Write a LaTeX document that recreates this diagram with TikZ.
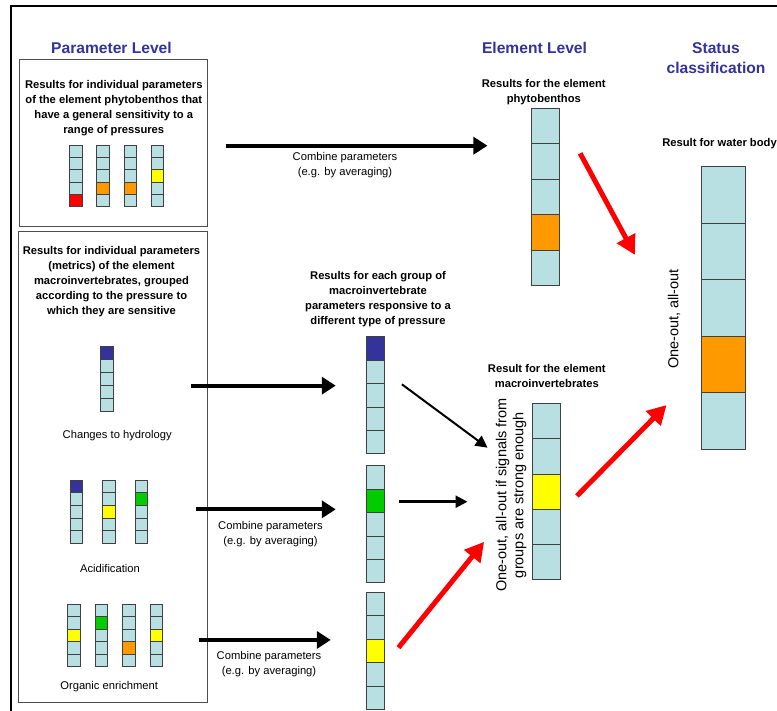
\documentclass[tikz,border=0pt]{standalone}
\usepackage{fontspec}
\setmainfont{Liberation Sans}
\usepackage{tikz}
\usetikzlibrary{arrows.meta}
\usepackage{xcolor}
\definecolor{cellblue}{HTML}{B8DFE1}
\definecolor{headblue}{HTML}{333399}
\definecolor{darkblue}{HTML}{333399}
\definecolor{cellgreen}{HTML}{00CC00}
\definecolor{cellyellow}{HTML}{FFFF00}
\definecolor{cellorange}{HTML}{FF9900}
\definecolor{cellred}{HTML}{FF0000}
\definecolor{arrowred}{HTML}{FF0000}

% one column of five result cells: name, x, top, width, cell height, coloured cell, colour
\newcommand{\stripcol}[7]{%
  \foreach \k in {1,...,5}{%
    \ifnum\k=#6\relax \def\cellcol{#7}\else \def\cellcol{cellblue}\fi
    \draw[cellline, fill=\cellcol] ({#2-#4/2}, {#3+(\k-1)*#5}) rectangle ++(#4, #5);
  }%
  \node[inner sep=0pt, minimum width=#4pt, minimum height={5*#5pt}] (#1) at (#2, {#3+2.5*#5}) {};
}

\begin{document}
\begin{tikzpicture}[
  x=1pt, y=-1pt,
  panel/.style={draw=black!70, line width=0.8pt, inner sep=0pt},
  cellline/.style={draw=black!75, line width=0.7pt},
  heading/.style={font=\fontsize{15.6}{20.6}\selectfont\bfseries, text=headblue, align=center},
  blbl/.style={font=\fontsize{11.2}{15}\selectfont\bfseries, align=center},
  lbl/.style={font=\fontsize{11.2}{15}\selectfont, align=center},
  rotlbl/.style={font=\fontsize{14.5}{17}\selectfont, align=center, rotate=90},
  bigarrow/.style={-{Triangle[length=14pt,width=17pt]}, line width=4pt},
  thinarrow/.style={-{Triangle[length=12pt,width=12pt]}, line width=2pt},
  redarrow/.style={-{Triangle[length=19pt,width=20pt]}, line width=5pt, draw=arrowred}
]
  \useasboundingbox[fill=white] (0,0) rectangle (777,711);

  % Frame
  \draw[line width=2.5pt] (11,800) -- (11,6) -- (800,6);

  % Headings
  \node[heading] (parhead) at (111.5, 47.7) {Parameter Level};
  \node[heading] (elemhead) at (534.5, 47.7) {Element Level};
  \node[heading] (stathead) at (716, 58) {Status\\classification};

  % Parameter level: phytobenthos
  \node[panel, minimum width=188pt, minimum height=167pt] (parbox) at (113, 142.5) {};
  \node[blbl] (parres) at (113.8, 108.5)
    {Results for individual parameters\\of the element phytobenthos that\\have a general sensitivity to a\\range of pressures};
  \stripcol{pb1}{75.7}{145}{12.3}{12.3}{5}{cellred}
  \stripcol{pb2}{102.7}{145}{12.3}{12.3}{4}{cellorange}
  \stripcol{pb3}{130}{145}{12.3}{12.3}{4}{cellorange}
  \stripcol{pb4}{157.3}{145}{12.3}{12.3}{3}{cellyellow}

  % Parameter level: macroinvertebrates
  \node[panel, minimum width=189pt, minimum height=471pt] (macbox) at (112.5, 466.5) {};
  \node[blbl] (macres) at (111.5, 281.7)
    {Results for individual parameters\\(metrics) of the element\\macroinvertebrates, grouped\\according to the pressure to\\which they are sensitive};
  \stripcol{hyd1}{106.8}{346.7}{12.3}{12.9}{1}{darkblue}
  \node[lbl] (hydlbl) at (117.2, 435.7) {Changes to hydrology};
  \stripcol{acid1}{76.3}{480}{12.3}{12.7}{1}{darkblue}
  \stripcol{acid2}{108.7}{480}{12.3}{12.7}{3}{cellyellow}
  \stripcol{acid3}{141.3}{480}{12.3}{12.7}{2}{cellgreen}
  \node[lbl] (acidlbl) at (110, 568.3) {Acidification};
  \stripcol{org1}{73.8}{604.3}{12.3}{12.5}{3}{cellyellow}
  \stripcol{org2}{101.2}{604.3}{12.3}{12.5}{2}{cellgreen}
  \stripcol{org3}{128.8}{604.3}{12.3}{12.5}{4}{cellorange}
  \stripcol{org4}{156.2}{604.3}{12.3}{12.5}{3}{cellyellow}
  \node[lbl] (orglbl) at (109.2, 686.7) {Organic enrichment};

  % Groups of macroinvertebrate parameters
  \node[blbl] (grpres) at (378, 299.5)
    {Results for each group of\\macroinvertebrate\\parameters responsive to a\\different type of pressure};
  \stripcol{grp1}{375.3}{336.7}{18.7}{23.4}{1}{darkblue}
  \stripcol{grp2}{375.3}{465.7}{18.7}{23.4}{2}{cellgreen}
  \stripcol{grp3}{375.3}{592.3}{18.7}{23.4}{3}{cellyellow}

  % Element level
  \node[blbl] (phytores) at (543.8, 92.2) {Results for the element\\phytobenthos};
  \stripcol{phyto}{545.5}{108.3}{27.7}{35.5}{4}{cellorange}
  \node[blbl] (macelres) at (546.8, 375.8) {Result for the element\\macroinvertebrates};
  \stripcol{macel}{546.7}{403.3}{28}{35.3}{3}{cellyellow}
  \node[rotlbl] (oneoutif) at (511, 495) {One-out, all-out if signals from\\groups are strong enough};

  % Status classification
  \node[blbl] (waterres) at (719.5, 143.3) {Result for water body};
  \stripcol{water}{723.7}{166.7}{44}{56.5}{4}{cellorange}
  \node[rotlbl] (oneout) at (674, 319) {One-out, all-out};

  % Combining arrows
  \draw[bigarrow, shorten <=18.3pt, shorten >=44pt]
    ([yshift=-3.2pt]parbox.east) -- ([yshift=-3.2pt]parbox.east -| phyto.west);
  \node[lbl] (comb1) at (345, 165.5) {Combine parameters\\(e.g. by averaging)};
  \draw[bigarrow, shorten <=77.7pt, shorten >=30pt]
    ([yshift=-6.7pt]hyd1.east) -- ([yshift=-6.7pt]hyd1.east -| grp1.west);
  \draw[bigarrow, shorten <=48.3pt, shorten >=30pt]
    ([yshift=2.4pt]acid3.east) -- ([yshift=2.4pt]acid3.east -| grp2.west);
  \node[lbl] (comb2) at (270.5, 534.3) {Combine parameters\\(e.g. by averaging)};
  \draw[bigarrow, shorten <=36pt, shorten >=35pt]
    ([yshift=-4.4pt]org4.east) -- ([yshift=-4.4pt]org4.east -| grp3.west);
  \node[lbl] (comb3) at (269, 664.3) {Combine parameters\\(e.g. by averaging)};

  % Group to element
  \draw[thinarrow, shorten <=21.2pt, shorten >=55.9pt]
    ([yshift=23.5pt]grp1.east) -- ([yshift=10.6pt]macel.west);
  \draw[thinarrow, line width=2.6pt, shorten <=14.4pt, shorten >=65pt]
    ([yshift=22.5pt]grp2.east) -- ([yshift=22.5pt]grp2.east -| macel.west);
  \draw[redarrow, shorten <=21.7pt, shorten >=76.9pt]
    ([yshift=-13.7pt]grp3.east) -- ([yshift=9.5pt]macel.west);

  % Element to status
  \draw[redarrow, shorten <=43.4pt, shorten >=140.2pt]
    ([yshift=81.9pt]phyto.east) -- ([yshift=-70.3pt]water.west);
  \draw[redarrow, shorten <=22.8pt, shorten >=49.8pt]
    ([yshift=-20.6pt]macel.east) -- ([yshift=-61.6pt]water.west);
\end{tikzpicture}
\end{document}
